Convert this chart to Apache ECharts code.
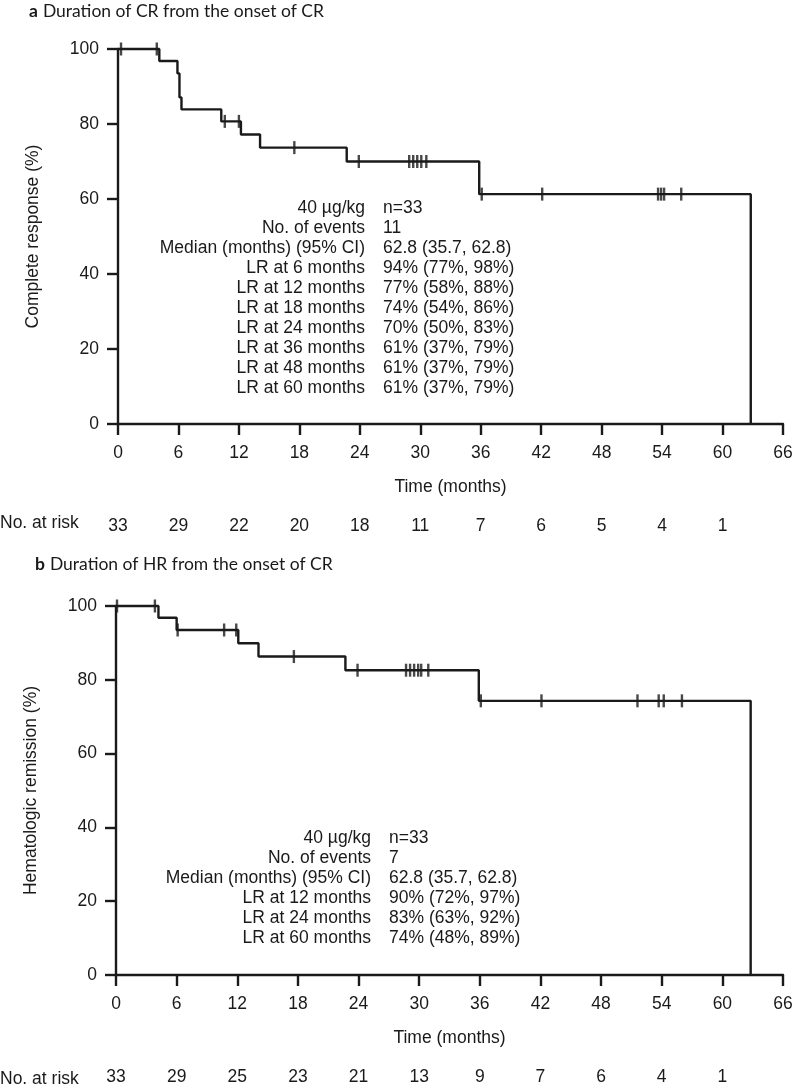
<!DOCTYPE html>
<html><head><meta charset="utf-8">
<script src="https://cdn.jsdelivr.net/npm/echarts@6/dist/echarts.min.js"></script>
<style>html,body{margin:0;padding:0;background:#fff}#c{width:800px;height:1086px}</style>
</head><body><div id="c"></div>
<script>
// ---- data ----
const titleA = ['a', 'Duration of CR from the onset of CR'];
const titleB = ['b', 'Duration of HR from the onset of CR'];
const yNameA = 'Complete response (%)';
const yNameB = 'Hematologic remission (%)';
const xName = 'Time (months)';
const atRiskLabel = 'No. at risk';
const atRiskTimes = [0, 6, 12, 18, 24, 30, 36, 42, 48, 54, 60];
const atRiskA = [33, 29, 22, 20, 18, 11, 7, 6, 5, 4, 1];
const atRiskB = [33, 29, 25, 23, 21, 13, 9, 7, 6, 4, 1];

// KM step curves [month, %]
const curveA = [[0,100],[4.1,96.8],[5.9,93.5],[6.1,87.1],[6.3,83.9],[10.25,80.7],[12.2,77.2],[14.1,73.7],[22.7,70.0],[35.85,61.3],[62.8,0]];
const censorA = [[0.3,100],[3.85,100],[10.6,80.7],[12.0,80.7],[17.5,73.7],[23.9,70],[28.9,70],[29.3,70],[29.7,70],[30.1,70],[30.6,70],[36.1,61.3],[42.1,61.3],[53.6,61.3],[53.9,61.3],[54.2,61.3],[55.9,61.3]];
const curveB = [[0,100],[4.2,96.8],[6.0,93.5],[12.1,89.9],[14.1,86.3],[22.7,82.6],[35.9,74.3],[62.8,0]];
const censorB = [[0.1,100],[3.85,100],[6.1,93.5],[10.7,93.5],[11.9,93.5],[17.6,86.3],[23.9,82.6],[28.7,82.6],[29.1,82.6],[29.5,82.6],[29.9,82.6],[30.2,82.6],[30.9,82.6],[36.1,74.3],[42.1,74.3],[51.6,74.3],[53.7,74.3],[54.2,74.3],[56.0,74.3]];

const statLabelsA = ['40 µg/kg','No. of events','Median (months) (95% CI)','LR at 6 months','LR at 12 months','LR at 18 months','LR at 24 months','LR at 36 months','LR at 48 months','LR at 60 months'];
const statValuesA = ['n=33','11','62.8 (35.7, 62.8)','94% (77%, 98%)','77% (58%, 88%)','74% (54%, 86%)','70% (50%, 83%)','61% (37%, 79%)','61% (37%, 79%)','61% (37%, 79%)'];
const statLabelsB = ['40 µg/kg','No. of events','Median (months) (95% CI)','LR at 12 months','LR at 24 months','LR at 60 months'];
const statValuesB = ['n=33','7','62.8 (35.7, 62.8)','90% (72%, 97%)','83% (63%, 92%)','74% (48%, 89%)'];

// ---- styling ----
const INK = '#1a1a1a';
const FONT = '"Liberation Sans", Arial, sans-serif';
const FS = 17.5;
const LW = 2.4;

const chart = echarts.init(document.getElementById('c'), null, {renderer: 'canvas'});

function xAxisMain(gi) {
  return {
    type: 'value', gridIndex: gi, min: 0, max: 66, interval: 6,
    name: xName, nameLocation: 'middle', nameGap: 54,
    nameTextStyle: {color: INK, fontFamily: FONT, fontSize: FS},
    axisLine: {show: true, onZero: false, lineStyle: {color: INK, width: LW}},
    axisTick: {show: true, inside: false, length: 11, lineStyle: {color: INK, width: LW}},
    axisLabel: {color: INK, fontFamily: FONT, fontSize: FS, margin: 20},
    splitLine: {show: false}
  };
}
function xAxisRisk(gi, arr) {
  return {
    type: 'value', gridIndex: gi, min: 0, max: 66, interval: 6, position: 'bottom', offset: 84,
    axisLine: {show: false}, axisTick: {show: false}, splitLine: {show: false},
    axisLabel: {color: INK, fontFamily: FONT, fontSize: FS, margin: 9,
      formatter: v => { const i = atRiskTimes.indexOf(v); return i >= 0 ? String(arr[i]) : ''; }}
  };
}
function yAxis(gi, nm) {
  return {
    type: 'value', gridIndex: gi, min: 0, max: 100, interval: 20,
    name: nm, nameLocation: 'middle', nameGap: 76, nameRotate: 90,
    nameTextStyle: {color: INK, fontFamily: FONT, fontSize: FS},
    axisLine: {show: true, onZero: false, lineStyle: {color: INK, width: LW}},
    axisTick: {show: true, inside: false, length: 11, lineStyle: {color: INK, width: LW}},
    axisLabel: {color: INK, fontFamily: FONT, fontSize: FS, margin: 19},
    splitLine: {show: false}
  };
}
function stepSeries(xi, yi, data) {
  return {type: 'line', xAxisIndex: xi, yAxisIndex: yi, data: data, step: 'end',
    showSymbol: false, symbol: 'none', clip: false, silent: true,
    lineStyle: {color: INK, width: LW}, z: 3};
}
function censorSeries(xi, yi, data) {
  return {type: 'scatter', xAxisIndex: xi, yAxisIndex: yi, data: data,
    symbol: 'rect', symbolSize: [2.4, 13], clip: false, silent: true,
    itemStyle: {color: INK}, z: 4};
}
function textEl(x, y, lines, align, vAlign) {
  return {type: 'text', x: x, y: y, silent: true,
    style: {text: lines.join('\n'), fill: INK, font: FS + 'px ' + FONT,
      textAlign: align, textVerticalAlign: vAlign || 'top', lineHeight: 20}};
}
function titleOpt(parts, left, top) {
  return {text: '{b|' + parts[0] + '} {t|' + parts[1] + '}', left: left, top: top, padding: 0,
    textStyle: {fontWeight: 'normal', rich: {
      b: {fontFamily: 'Lato, "Open Sans", sans-serif', fontWeight: 'bold', fontSize: 17.5, color: INK},
      t: {fontFamily: 'Lato, "Open Sans", sans-serif', fontWeight: 'normal', fontSize: 17.5, color: INK}
    }}};
}

chart.setOption({
  animation: false,
  backgroundColor: '#fff',
  title: [titleOpt(titleA, 29, 2), titleOpt(titleB, 35, 555)],
  grid: [
    {left: 118, top: 49, width: 665, height: 375, containLabel: false},
    {left: 116, top: 606, width: 667, height: 373.5, containLabel: false}
  ],
  xAxis: [xAxisMain(0), xAxisRisk(0, atRiskA), xAxisMain(1), xAxisRisk(1, atRiskB)],
  yAxis: [yAxis(0, yNameA), yAxis(1, yNameB)],
  series: [
    stepSeries(0, 0, curveA), censorSeries(0, 0, censorA),
    stepSeries(2, 1, curveB), censorSeries(2, 1, censorB)
  ],
  graphic: [
    textEl(365, 198, statLabelsA, 'right'), textEl(383, 198, statValuesA, 'left'),
    textEl(371, 828, statLabelsB, 'right'), textEl(389, 828, statValuesB, 'left'),
    textEl(0, 523, [atRiskLabel], 'left', 'middle'),
    textEl(0, 1079, [atRiskLabel], 'left', 'middle')
  ]
});
</script></body></html>
